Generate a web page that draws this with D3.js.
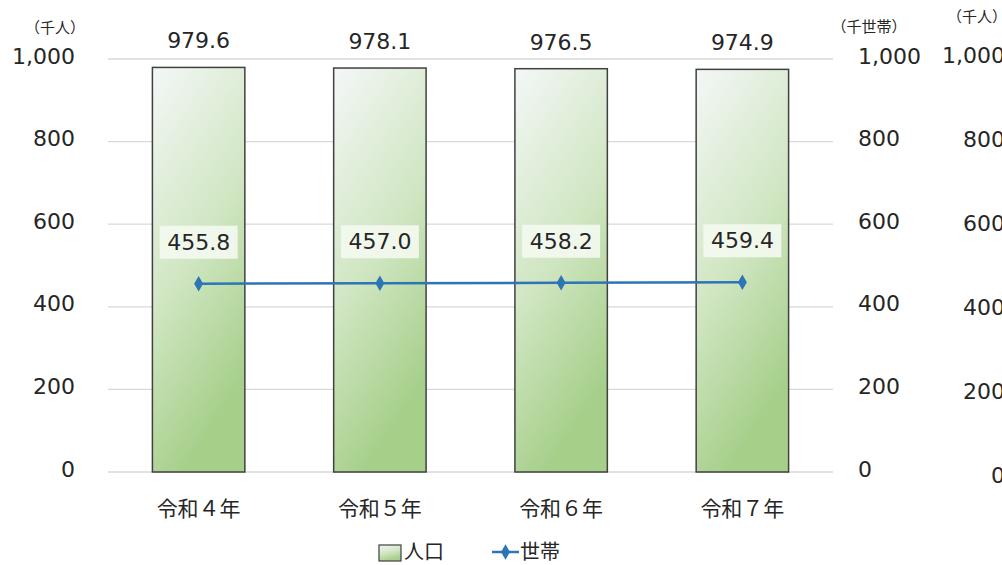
<!DOCTYPE html>
<html>
<head>
<meta charset="utf-8">
<script src="https://cdn.jsdelivr.net/npm/d3@7"></script>
<style>
  body { margin: 0; background: #fff; overflow: hidden; }
  text { fill: #262626; }
  .num { font-family: "DejaVu Sans", Verdana, sans-serif; }
  .jp { font-family: "Noto Sans CJK JP", sans-serif; }
</style>
</head>
<body>
<div class="root"></div>
<script>
var categories = ['令和４年', '令和５年', '令和６年', '令和７年'];
var population = [979.6, 978.1, 976.5, 974.9];   // 人口 (千人)
var households = [455.8, 457.0, 458.2, 459.4];   // 世帯 (千世帯)
var ticks = [0, 200, 400, 600, 800, 1000];

function runChart() {
  var w = 1002, h = 565;
  var left = 108, right = 833, top = 59, bottom = 472;

  var svg = d3.select('.root').append('svg')
    .attr('width', w)
    .attr('height', h)
    .style('display', 'block');

  var defs = svg.append('defs');
  var grad = defs.append('linearGradient')
    .attr('id', 'barGrad')
    .attr('x1', '0').attr('y1', '0')
    .attr('x2', '0.35').attr('y2', '1');
  grad.append('stop').attr('offset', '0%').attr('stop-color', '#f4f7f7');
  grad.append('stop').attr('offset', '55%').attr('stop-color', '#d0e6c2');
  grad.append('stop').attr('offset', '100%').attr('stop-color', '#a6cf8a');

  var x = d3.scaleBand()
    .domain(categories)
    .range([left, right])
    .paddingInner(0.49)
    .paddingOuter(0.245);

  var y = d3.scaleLinear().domain([0, 1000]).range([bottom, top]);
  var y3 = d3.scaleLinear().domain([0, 1000]).range([478, 58]);

  // grid
  svg.append('g')
    .selectAll('line')
    .data(ticks)
    .enter().append('line')
      .attr('x1', left)
      .attr('x2', right)
      .attr('y1', function(d) { return y(d); })
      .attr('y2', function(d) { return y(d); })
      .attr('stroke', '#d9d9d9')
      .attr('stroke-width', 1.3);

  var fmt = d3.format(',');

  function styleAxis(g) {
    g.select('.domain').remove();
    g.selectAll('text')
      .attr('class', 'num')
      .style('font-size', '22px')
      .style('fill', '#262626');
  }

  // left axis
  svg.append('g')
    .attr('transform', 'translate(' + 75 + ',-3)')
    .call(d3.axisLeft(y).tickValues(ticks).tickFormat(fmt).tickSize(0).tickPadding(0))
    .call(styleAxis);

  // right axis
  svg.append('g')
    .attr('transform', 'translate(' + 858 + ',-3)')
    .call(d3.axisRight(y).tickValues(ticks).tickFormat(fmt).tickSize(0).tickPadding(0))
    .call(styleAxis);

  // cut-off third axis (right aligned past the window edge)
  svg.append('g')
    .attr('transform', 'translate(' + 1005 + ',-3)')
    .call(d3.axisLeft(y3).tickValues(ticks).tickFormat(fmt).tickSize(0).tickPadding(0))
    .call(styleAxis);

  // unit labels
  svg.append('text').attr('class', 'jp')
    .attr('x', 55).attr('y', 33)
    .attr('text-anchor', 'middle')
    .style('font-size', '15px')
    .text('（千人）');
  svg.append('text').attr('class', 'jp')
    .attr('x', 869).attr('y', 32)
    .attr('text-anchor', 'middle')
    .style('font-size', '15px')
    .text('（千世帯）');
  svg.append('text').attr('class', 'jp')
    .attr('x', 977).attr('y', 22)
    .attr('text-anchor', 'middle')
    .style('font-size', '15px')
    .text('（千人）');

  // bars
  svg.append('g')
    .selectAll('rect')
    .data(population)
    .enter().append('rect')
      .attr('x', function(d, i) { return x(categories[i]); })
      .attr('y', function(d) { return y(d); })
      .attr('width', x.bandwidth())
      .attr('height', function(d) { return bottom - y(d); })
      .attr('fill', 'url(#barGrad)')
      .attr('stroke', '#404040')
      .attr('stroke-width', 1.5);

  // bar value labels
  svg.append('g')
    .selectAll('text')
    .data(population)
    .enter().append('text')
      .attr('class', 'num')
      .attr('x', function(d, i) { return x(categories[i]) + x.bandwidth() / 2; })
      .attr('y', function(d) { return y(d) - 19; })
      .attr('text-anchor', 'middle')
      .style('font-size', '22px')
      .text(function(d) { return d.toFixed(1); });

  // category labels
  svg.append('g')
    .selectAll('text')
    .data(categories)
    .enter().append('text')
      .attr('class', 'jp')
      .attr('x', function(d) { return x(d) + x.bandwidth() / 2; })
      .attr('y', 516)
      .attr('text-anchor', 'middle')
      .style('font-size', '21px')
      .text(function(d) { return d; });

  // household line
  var cx = function(d, i) { return x(categories[i]) + x.bandwidth() / 2; };
  var line = d3.line()
    .x(cx)
    .y(function(d) { return y(d); });

  svg.append('path')
    .datum(households)
    .attr('d', line)
    .attr('fill', 'none')
    .attr('stroke', '#2e75b6')
    .attr('stroke-width', 2.5);

  var diamond = d3.symbol().type(d3.symbolDiamond).size(70);
  svg.append('g')
    .selectAll('path')
    .data(households)
    .enter().append('path')
      .attr('d', diamond)
      .attr('transform', function(d, i) { return 'translate(' + cx(d, i) + ',' + y(d) + ')'; })
      .attr('fill', '#2e75b6');

  // household labels with boxes
  var lbl = svg.append('g')
    .selectAll('g')
    .data(households)
    .enter().append('g')
      .attr('transform', function(d, i) { return 'translate(' + cx(d, i) + ',' + (y(d) - 42) + ')'; });
  lbl.append('rect')
    .attr('x', -39).attr('y', -16)
    .attr('width', 78).attr('height', 33)
    .attr('fill', '#f3f8ef')
    .attr('fill-opacity', 0.92);
  lbl.append('text')
    .attr('class', 'num')
    .attr('text-anchor', 'middle')
    .attr('y', 8)
    .style('font-size', '22px')
    .text(function(d) { return d.toFixed(1); });

  // legend
  var legend = svg.append('g');
  legend.append('rect')
    .attr('x', 379).attr('y', 545)
    .attr('width', 22).attr('height', 16)
    .attr('fill', 'url(#barGrad)')
    .attr('stroke', '#404040')
    .attr('stroke-width', 1.2);
  legend.append('text').attr('class', 'jp')
    .attr('x', 404).attr('y', 559)
    .style('font-size', '20px')
    .text('人口');
  legend.append('line')
    .attr('x1', 492).attr('x2', 519)
    .attr('y1', 552).attr('y2', 552)
    .attr('stroke', '#2e75b6')
    .attr('stroke-width', 2.5);
  legend.append('path')
    .attr('d', diamond)
    .attr('transform', 'translate(505.5,552)')
    .attr('fill', '#2e75b6');
  legend.append('text').attr('class', 'jp')
    .attr('x', 520).attr('y', 559)
    .style('font-size', '20px')
    .text('世帯');
}

window.onload = function() {
  runChart();
};
</script>
</body>
</html>
